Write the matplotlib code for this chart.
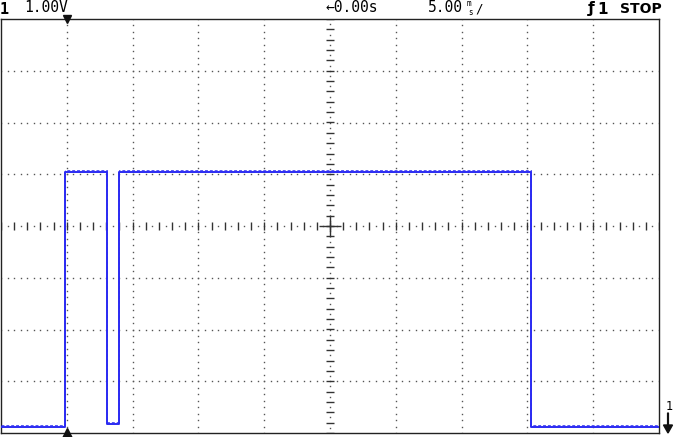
import numpy as np
import matplotlib
matplotlib.use('Agg')
import matplotlib.pyplot as plt

# scope settings
volts_per_div = 1.00
ms_per_div = 5.00
ch1_offset_div = -3.88   # ground is just below the bottom edge

# trace 1, edges (ms, volts)
edge_times = [-25.0, -20.1, -20.1, -16.95, -16.95, -16.06, -16.06, 15.27, 15.27, 25.0]
edge_volts = [0.0, 0.0, 4.92, 4.92, 0.05, 0.05, 4.92, 4.92, 0.0, 0.0]
trigger_time = -20.0

W, H = 675, 437
fig = plt.figure(figsize=(W / 100, H / 100), dpi=100)
ax = fig.add_axes([1 / W, 4 / H, 658 / W, 414 / H])
x0, x1 = -5 * ms_per_div, 5 * ms_per_div
ax.set_xlim(x0, x1)
ax.set_ylim(-4, 4)
ax.set_xticks([]); ax.set_yticks([])
for s in ax.spines.values():
    s.set_color('#222222'); s.set_linewidth(1.0)

dot_c = '#555555'
# dotted graticule
for gx in np.arange(-4, 5) * ms_per_div:
    if gx == 0:
        continue
    ys = np.arange(-4, 4.001, 0.125)
    ax.plot(np.full_like(ys, gx), ys, ls='none', marker='s', ms=1.0, mew=0, color=dot_c)
for gy in range(-3, 4):
    if gy == 0:
        continue
    xs = np.arange(-5, 5.001, 0.1) * ms_per_div
    ax.plot(xs, np.full_like(xs, gy), ls='none', marker='s', ms=1.0, mew=0, color=dot_c)

# centre axes with minor ticks
tx = np.arange(-5, 5.001, 0.2) * ms_per_div
ax.plot(tx, np.zeros_like(tx), ls='none', marker='|', ms=6, mew=1.0, color='#333333')
mx = np.arange(-4.9, 5, 0.2) * ms_per_div
ax.plot(mx, np.zeros_like(mx), ls='none', marker='s', ms=1.0, mew=0, color=dot_c)
ty = np.arange(-4, 4.001, 0.2)
ax.plot(np.zeros_like(ty), ty, ls='none', marker='_', ms=6, mew=1.0, color='#333333')
my = np.arange(-3.9, 4, 0.2)
ax.plot(np.zeros_like(my), my, ls='none', marker='s', ms=1.0, mew=0, color=dot_c)
ax.plot([0], [0], marker='+', ms=16, mew=1.0, color='#333333')

# trace
t = np.array(edge_times)
y = np.array(edge_volts) / volts_per_div + ch1_offset_div
blue = '#2a2af2'
ax.plot(t, y, color=blue, lw=1.4, zorder=5)
ax.plot(t, y + 0.035, color=blue, lw=0.7, ls=(0, (3, 2)), alpha=0.8, zorder=5)

# trigger markers
ax.plot([trigger_time], [4], marker='v', ms=6, color='#111111', clip_on=False, zorder=6)
ax.plot([trigger_time], [-4], marker='^', ms=7, color='#111111', clip_on=False, zorder=6)

# header text
def px(x, y):
    return x / W, 1 - y / H

mono = 'DejaVu Sans Mono'
fig.text(*px(0, 9), '1', fontsize=11, fontweight='bold', family=mono, va='center', ha='left')
fig.text(*px(24, 8), f'{volts_per_div:.2f}V', fontsize=10.5, family=mono, va='center', ha='left')
fig.text(*px(326, 8), '\u21900.00s', fontsize=10.5, family=mono, va='center', ha='left')
fig.text(*px(428, 8), f'{ms_per_div:.2f}', fontsize=10.5, family=mono, va='center', ha='left')
fig.text(*px(467, 4), 'm', fontsize=5.5, family=mono, va='center', ha='left')
fig.text(*px(468, 12.5), 's', fontsize=5.5, family=mono, va='center', ha='left')
fig.text(*px(475, 9), '/', fontsize=9, family=mono, va='center', ha='left')
fig.text(*px(588, 9), '\u0192', fontsize=11, fontweight='bold', va='center', ha='left')
fig.text(*px(597, 9), '1', fontsize=11, fontweight='bold', va='center', ha='left')
fig.text(*px(620, 9), 'STOP', fontsize=10, fontweight='bold', va='center', ha='left')

# channel 1 ground marker (off-screen below)
fig.text(*px(669, 407), '1', fontsize=8.5, family=mono, va='center', ha='center')
fig.add_artist(matplotlib.patches.FancyArrow(668 / W, 1 - 413 / H, 0, -20 / H, width=0.8 / W,
                                              head_width=9 / W, head_length=8 / H,
                                              length_includes_head=True, color='#111111',
                                              transform=fig.transFigure))

fig.savefig('out.png', dpi=100)
